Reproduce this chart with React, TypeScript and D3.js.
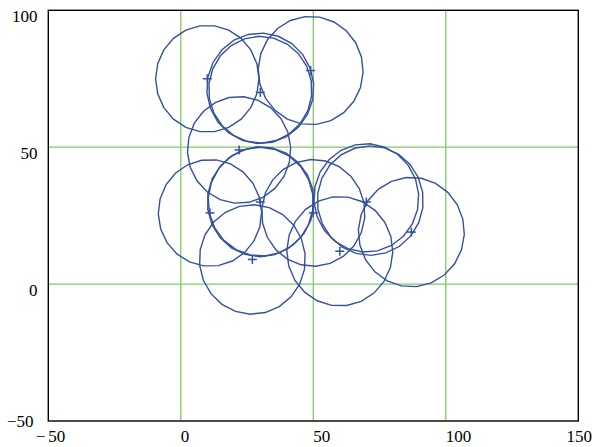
import React from "react";
import * as d3 from "d3";

const xDomain = [-50, 150];
const yDomain = [-50, 100];
const xTicks = [-50, 0, 50, 100, 150];
const yTicks = [-50, 0, 50, 100];
const xGrid = [0, 50, 100];
const yGrid = [0, 50];

// marker points (x, y)
const pointX = [10, 30, 49, 22, 30, 11, 27, 50, 60, 70, 87];
const pointY = [75, 70, 78, 49, 30, 26, 9, 26, 12, 30, 19];

// circles (centre x, centre y, radius) in data units
const circleX = [10, 30, 30, 49, 22, 30, 30.3, 11, 27, 50, 60, 70, 71.5, 87];
const circleY = [75, 71.5, 71, 78, 49, 30, 30.2, 26, 9, 26, 12, 31.5, 30.5, 19];
const circleR = [19.5, 20.2, 19.5, 19.8, 19.5, 20, 20, 19.5, 20, 19.5, 20, 19.8, 20, 20];

const W = 592;
const H = 447;
const left = 48.3;
const right = 578.3;
const top = 10.3;
const bottom = 421;

const fmt = (v: number) => (v < 0 ? "\u2212" + Math.abs(v) : String(v));

export default function App() {
  const x = d3.scaleLinear().domain(xDomain).range([left, right]);
  const y = d3.scaleLinear().domain(yDomain).range([bottom, top]);
  const N = 22;
  const line = d3
    .line<[number, number]>()
    .x((d) => x(d[0]))
    .y((d) => y(d[1]))
    .curve(d3.curveLinearClosed);
  const blue = "#34509f";
  const green = "#7fcb60";
  const textStyle = { fontFamily: "'Liberation Serif', 'Times New Roman', Times, serif", fontSize: "17px" };
  return (
    <svg
      width={W}
      height={H}
      style={{ position: "absolute", left: 0, top: 0, background: "#fff" }}
    >
      {xGrid.map((v) => (
        <line key={"gx" + v} x1={x(v)} x2={x(v)} y1={top} y2={bottom} stroke={green} strokeWidth={1.3} />
      ))}
      {yGrid.map((v) => (
        <line key={"gy" + v} x1={left} x2={right} y1={y(v)} y2={y(v)} stroke={green} strokeWidth={1.3} />
      ))}
      {circleX.map((cx, i) => {
        const pts: [number, number][] = d3.range(N).map((k) => {
          const a = (k / N) * 2 * Math.PI + i * 0.37;
          return [cx + circleR[i] * Math.cos(a), circleY[i] + circleR[i] * Math.sin(a)];
        });
        return <path key={"c" + i} d={line(pts) || ""} fill="none" stroke={blue} strokeWidth={1.4} />;
      })}
      {pointX.map((px, i) => (
        <g key={"p" + i} stroke={blue} strokeWidth={1.5}>
          <line x1={x(px) - 4.5} x2={x(px) + 4.5} y1={y(pointY[i])} y2={y(pointY[i])} />
          <line x1={x(px)} x2={x(px)} y1={y(pointY[i]) - 4.5} y2={y(pointY[i]) + 4.5} />
        </g>
      ))}
      <rect x={left} y={top} width={right - left} height={bottom - top} fill="none" stroke="#000" strokeWidth={1.4} />
      {xTicks.map((v, i) => {
        const last = i === xTicks.length - 1;
        if (v < 0) {
          return (
            <g key={"xt" + v} style={textStyle} fill="#000">
              <text x={x(v) - 3} y={441.5} textAnchor="end">{"\u2212"}</text>
              <text x={x(v)} y={441.5}>{Math.abs(v)}</text>
            </g>
          );
        }
        return (
          <text
            key={"xt" + v}
            x={last ? 592 : x(v)}
            y={441.5}
            textAnchor={last ? "end" : "start"}
            style={textStyle}
            fill="#000"
          >
            {fmt(v)}
          </text>
        );
      })}
      {yTicks.map((v) => (
        <text
          key={"yt" + v}
          x={v === -50 ? 33.5 : 37.5}
          y={v === -50 ? 427 : y(v) + 11.8}
          textAnchor="end"
          style={textStyle}
          fill="#000"
        >
          {fmt(v)}
        </text>
      ))}
    </svg>
  );
}
